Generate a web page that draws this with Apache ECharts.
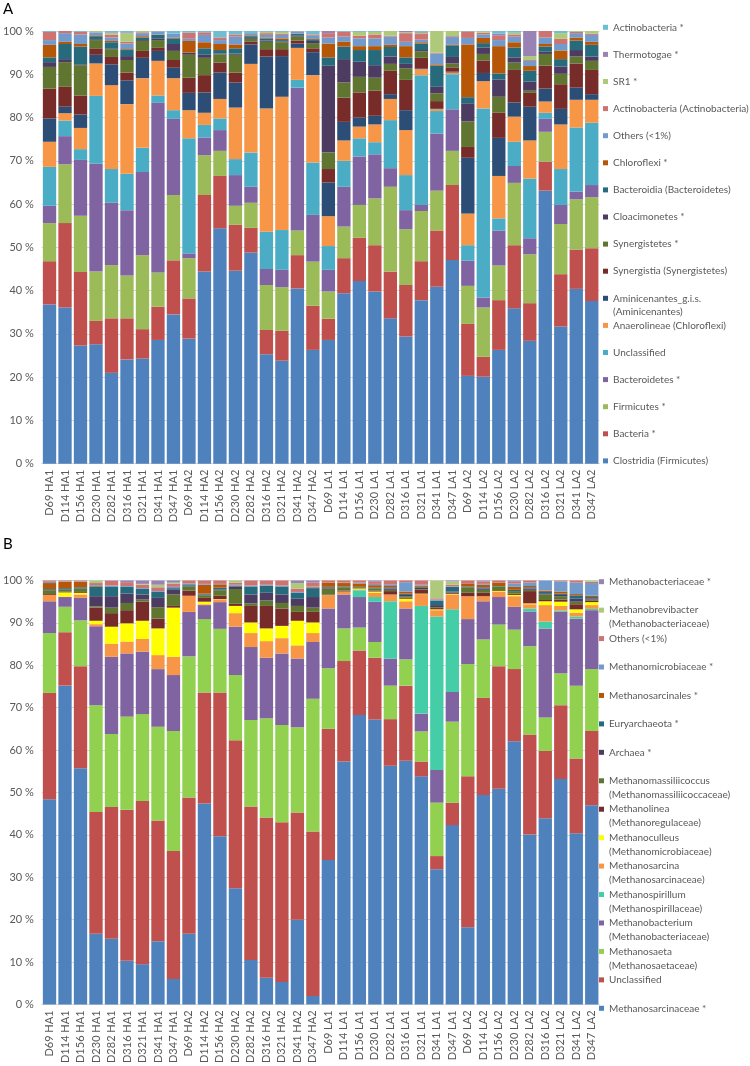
<!DOCTYPE html>
<html><head><meta charset="utf-8">
<script src="https://cdn.jsdelivr.net/npm/echarts/dist/echarts.min.js"></script>
<style>html,body{margin:0;padding:0;background:#fff}#c{width:750px;height:1066px}</style>
</head><body><div id="c"></div>
<script>
const categories = ['D69 HA1','D114 HA1','D156 HA1','D230 HA1','D282 HA1','D316 HA1','D321 HA1','D341 HA1','D347 HA1',
  'D69 HA2','D114 HA2','D156 HA2','D230 HA2','D282 HA2','D316 HA2','D321 HA2','D341 HA2','D347 HA2',
  'D69 LA1','D114 LA1','D156 LA1','D230 LA1','D282 LA1','D316 LA1','D321 LA1','D341 LA1','D347 LA1',
  'D69 LA2','D114 LA2','D156 LA2','D230 LA2','D282 LA2','D316 LA2','D321 LA2','D341 LA2','D347 LA2'];

// ---- Panel A (bacteria), % per sample ----
const clostridia   = [36.8,36.1,27.3,27.6,21.0,24.1,24.3,28.6,34.5,28.9,44.4,54.4,44.6,48.8,25.3,23.8,40.5,26.3,28.6,39.4,42.2,39.8,33.6,29.4,37.8,40.9,47.1,20.3,20.1,26.3,35.9,28.4,63.1,31.7,40.4,37.6];
const bacteriaStar = [10.0,19.5,17.0,5.4,12.6,9.5,6.8,7.7,12.5,9.3,17.7,12.1,10.6,5.7,5.6,6.9,7.7,10.2,4.9,8.1,10.0,10.7,10.8,11.9,9.0,13.0,17.3,12.0,4.6,11.5,14.6,8.7,6.7,12.1,9.1,12.2];
const firmicutes   = [8.8,13.6,13.0,11.4,12.3,9.9,17.1,7.9,15.1,9.3,9.2,5.8,4.4,5.8,10.4,10.1,5.7,10.2,6.3,7.3,7.6,10.8,19.6,12.9,11.6,9.2,7.9,8.8,11.4,8.0,14.4,11.3,6.9,11.6,11.6,11.8];
const bacteroidetes= [4.0,6.5,12.9,24.9,14.4,15.1,19.2,39.2,17.6,1.1,4.1,4.8,7.1,3.7,3.7,4.0,33.0,10.8,5.0,9.2,11.2,10.2,4.3,4.4,1.4,13.2,9.6,5.8,2.3,8.1,3.9,3.7,3.0,4.4,1.8,2.8];
const unclassA     = [9.0,3.6,2.5,15.7,7.8,8.4,5.6,1.7,2.0,26.6,2.9,2.7,3.7,7.9,8.6,9.2,1.8,12.1,5.5,6.0,4.2,2.8,11.1,8.1,30.0,5.2,8.1,3.6,43.7,2.8,5.6,13.8,1.4,8.3,14.8,14.4];
const anaerolineae = [5.8,1.7,4.9,7.5,19.4,16.1,16.1,8.0,7.4,6.5,2.8,4.5,11.9,20.5,28.5,30.8,7.4,20.2,6.9,4.7,2.7,4.1,4.9,10.4,1.4,0.5,0.4,7.3,6.3,9.8,5.8,8.8,2.6,10.3,6.4,5.3];
const aminicenantes= [5.4,1.5,3.1,2.0,4.8,5.5,4.7,2.3,2.4,4.0,4.7,6.1,5.8,4.5,12.0,9.4,1.0,5.3,7.8,4.3,2.1,2.0,1.1,4.6,0.2,0.2,0.2,12.9,1.9,8.8,3.3,7.8,3.0,3.6,2.8,1.3];
const synergistia  = [6.9,4.6,4.4,1.5,1.7,1.8,1.6,0.7,1.8,3.5,4.0,2.3,2.3,0.6,1.7,1.6,0.7,0.9,3.1,5.6,5.8,5.8,5.4,7.0,2.4,1.6,1.0,2.5,2.9,5.8,7.5,3.2,5.3,5.7,5.6,5.6];
const synergistetes= [5.0,5.7,7.0,1.9,1.8,2.9,2.3,1.8,2.1,5.3,4.0,1.9,4.1,0.7,1.7,1.6,0.9,1.2,3.8,3.5,3.6,3.0,1.6,2.7,1.5,1.8,0.9,5.9,1.5,3.7,1.7,0.5,2.7,2.4,1.6,2.1];
const cloacimonetes= [1.1,0.7,0.2,0.2,0.2,0.9,0.2,0.3,1.6,0.5,0.7,0.2,0.3,0.2,0.3,0.2,0.3,0.5,20.1,5.4,3.5,2.9,1.7,1.0,0.3,1.5,1.5,4.2,1.5,4.0,1.2,2.1,0.5,1.7,1.5,1.0];
const bacteroidia  = [1.1,3.5,4.1,0.7,1.4,1.4,0.6,0.9,1.3,0,1.5,0.8,1.2,0.4,0.5,0.3,0.3,0.4,1.9,2.9,2.7,3.5,2.2,1.5,1.5,4.9,2.7,1.4,1.0,1.4,2.3,2.5,1.2,1.7,2.2,2.7];
const chloroflexi  = [2.9,0.5,0.6,0.2,0.3,0.2,0.3,0.1,0.2,2.7,1.4,1.4,0.9,0.2,0.2,0.4,0.1,0.2,3.2,1.1,0.9,0.9,0.5,2.6,0.3,0.3,0.2,12.2,1.2,6.3,1.2,1.1,0.6,2.0,0.7,0.7];
const othersA      = [1.1,2.0,2.2,0.7,0.8,1.3,0.7,0.6,0.9,0.5,1.7,0.9,1.8,0.5,0.6,0.8,0.4,0.6,1.4,1.2,1.8,1.8,1.9,1.0,0.6,2.5,1.7,1.5,0.8,1.4,1.3,1.2,1.5,1.5,1.0,1.6];
const actinoActino = [1.9,0.5,0.6,0,0.6,0.4,0.2,0.1,0,1.4,0.6,0.6,0.5,0,0.4,0.3,0.1,0.3,1.0,1.1,0.6,0.9,0.2,2.0,1.3,0.2,0.2,1.5,0.4,1.0,0.5,0.2,1.5,1.2,0.3,0.3];
const sr1          = [0,0,0,0.3,0.4,2.0,0.3,0,0,0,0,0,0,0,0.3,0.4,0,0,0,0,0.9,0.6,1.1,0.2,0.3,5.0,1.2,0,0.3,0,0.4,0.9,0,1.3,0.2,0.6];
const thermotogae  = [0,0,0,0,0.2,0.2,0,0,0,0,0,0,0,0,0,0,0,0,0.5,0,0,0,0,0.3,0.2,0,0,0,0,0.5,0,5.8,0,0,0,0];
const actinoStar   = [0.2,0,0.2,0,0.3,0.3,0,0.1,0.6,0.4,0.3,1.5,0.8,0.5,0.2,0.2,0.1,0.8,0,0.2,0.2,0.2,0,0,0.2,0,0,0.1,0.1,0.6,0.4,0,0,0.5,0,0];

// ---- Panel B (archaea), % per sample ----
const msarcinaceae = [48.4,75.2,55.7,16.7,15.5,10.3,9.5,14.9,6.0,16.7,47.4,39.7,27.4,10.5,6.3,5.3,20.0,2.0,34.1,57.3,68.3,67.2,56.3,57.5,53.8,31.9,42.3,18.2,49.4,50.9,62.1,40.1,43.9,53.2,40.4,47.0];
const unclassB     = [25.1,12.6,24.1,28.7,31.1,35.6,38.5,28.5,30.2,32.1,26.2,33.9,34.9,36.2,37.8,37.7,25.3,38.8,30.9,23.7,15.2,14.6,11.0,17.7,3.5,3.1,5.3,35.6,22.9,28.9,17.0,23.6,15.9,17.4,17.6,17.5];
const methanosaeta = [14.1,6.0,10.8,25.2,17.2,22.0,20.5,22.1,28.3,33.3,17.3,15.0,15.4,20.4,23.4,22.9,20.1,31.3,14.3,7.7,5.4,3.7,7.9,6.2,7.1,12.6,19.1,26.5,13.8,9.8,9.3,20.8,7.9,7.5,17.2,14.6];
const methanobacterium = [7.5,2.3,5.3,18.6,18.2,14.9,14.7,13.6,13.2,10.5,3.3,6.3,11.4,17.2,14.3,16.9,16.2,13.4,14.1,8.0,7.2,9.5,6.4,12.0,4.2,7.7,7.0,10.6,9.0,6.5,5.4,8.2,21.0,14.5,15.8,13.9];
const methanospirillum = [0,0,0,0,0,0,0,0,0,0,0,0,0,0,0,0,0,0,0,0,1.6,1.1,13.5,0,25.4,36.2,19.5,0,0,0,0,0.7,1.6,0.3,0.5,0.3];
const methanosarcina   = [1.5,0.1,0.8,0.5,3.1,2.8,3.0,3.3,4.3,3.8,0.2,0.6,3.2,3.3,3.9,3.6,3.1,2.1,3.0,0.7,0.2,1.0,1.6,1.7,2.8,1.5,3.5,5.4,1.2,1.2,2.5,1.0,3.9,1.1,0.9,0.9];
const methanoculleus   = [0,1.0,0.4,0.8,4.0,4.3,4.3,6.3,11.6,0,0.6,0.1,1.7,2.5,3.0,2.9,5.8,2.5,0.1,0,0.2,0.3,0,0.6,0.1,0.2,0.1,0,0,0.2,0.3,0.2,0.9,1.0,0.8,0.7];
const methanolinea     = [0.2,0.2,0.2,3.1,3.2,3.1,4.5,2.3,0.4,1.2,0.9,0.8,0.5,3.9,5.3,4.1,2.1,2.5,0.2,0.2,0,0.2,0.8,0.3,0.9,0.3,0.2,0.8,0.8,0.2,0.3,2.9,0.3,0.5,1.2,0.3];
const methanomassilii  = [0.9,0.5,0.7,0.3,1.3,1.7,0.5,2.7,2.7,1.0,0.6,1.3,3.5,0.6,1.3,1.3,1.4,1.0,1.4,0.8,0.3,0.5,0.3,0.3,0.2,0.2,0.2,1.3,0.7,0.9,0.6,0.3,1.3,0.8,0.6,0.3];
const archaeaStar      = [0.1,0.1,0.1,2.4,2.7,2.2,1.2,2.2,1.1,0.2,0.2,0.2,0.6,2.1,1.8,2.0,1.7,2.5,0.2,0,0,0,0.3,0.3,0.3,0.5,0.2,0,0.3,0,0,0.3,0.3,0.3,0.7,0.3];
const euryarchaeota    = [0.2,0.2,0.3,2.3,2.3,1.6,1.3,1.4,0.4,0.3,0.2,0.4,0.2,1.9,1.7,1.9,1.4,2.1,0.2,0.2,0.1,0.2,0.3,0.3,0.2,1.0,1.1,0.2,0.3,0.1,0.3,0.3,0.3,0.3,0.8,0.3];
const methanosarcinales= [1.4,1.5,1.3,0.1,0,0,0,0,0,0,2.1,0.8,0,0,0,0,0,0.2,1.0,0.8,0.8,0.6,0.3,0.5,0.3,0,0,0.6,0.6,0.8,0.7,0.3,0.3,0.5,0.3,0.3];
const methanomicrobiaceae = [0.3,0.1,0.1,0.2,0.2,0.2,0.2,0.2,0.3,0.2,0.2,0.1,0.2,0.2,0.2,0.2,0.2,0.2,0,0.1,0.2,0.3,0.3,2.2,0.2,0.3,0.1,0,0.2,0,0.8,0.8,2.4,2.4,2.7,3.0];
const othersB          = [0.3,0.2,0.2,0.5,1.1,0.9,0.8,0.9,0.7,0.7,0.8,0.8,0.5,1.2,1.0,1.2,0.8,0.9,0.5,0.5,0.5,0.5,1.0,0.4,1.0,0.3,0.4,0.8,0.6,0.5,0.4,0.5,0,0.2,0.5,0.3];
const methanobrevibacter = [0,0,0,0.6,0,0,0.2,0.6,0.3,0,0,0,0.5,0,0,0,1.3,0,0,0,0,0,0,0,0,4.2,0.8,0,0,0,0,0,0,0,0,0.3];
const methanobacteriaceae = [0,0,0,0,0.1,0.4,0.8,1.0,0.5,0,0,0,0,0,0,0,0.6,0.5,0,0,0,0.3,0,0,0,0,0.2,0,0.2,0,0.3,0,0,0,0,0];

// series lists, bottom of stack first
const seriesListA = [
  ['Clostridia (Firmicutes)', clostridia, '#4F81BD'],
  ['Bacteria *', bacteriaStar, '#C0504D'],
  ['Firmicutes *', firmicutes, '#9BBB59'],
  ['Bacteroidetes *', bacteroidetes, '#8064A2'],
  ['Unclassified', unclassA, '#4BACC6'],
  ['Anaerolineae (Chloroflexi)', anaerolineae, '#F79646'],
  ['Aminicenantes_g.i.s.\n(Aminicenantes)', aminicenantes, '#2C4D75'],
  ['Synergistia (Synergistetes)', synergistia, '#772C2A'],
  ['Synergistetes *', synergistetes, '#5F7530'],
  ['Cloacimonetes *', cloacimonetes, '#4D3B62'],
  ['Bacteroidia (Bacteroidetes)', bacteroidia, '#276A7C'],
  ['Chloroflexi *', chloroflexi, '#B65708'],
  ['Others (<1%)', othersA, '#729ACA'],
  ['Actinobacteria (Actinobacteria)', actinoActino, '#CD7371'],
  ['SR1 *', sr1, '#AFC97A'],
  ['Thermotogae *', thermotogae, '#9983B5'],
  ['Actinobacteria *', actinoStar, '#6FBDD1']
];
const seriesListB = [
  ['Methanosarcinaceae *', msarcinaceae, '#4F81BD'],
  ['Unclassified', unclassB, '#C0504D'],
  ['Methanosaeta\n(Methanosaetaceae)', methanosaeta, '#92D050'],
  ['Methanobacterium\n(Methanobacteriaceae)', methanobacterium, '#8064A2'],
  ['Methanospirillum\n(Methanospirillaceae)', methanospirillum, '#45CDA8'],
  ['Methanosarcina\n(Methanosarcinaceae)', methanosarcina, '#F79646'],
  ['Methanoculleus\n(Methanomicrobiaceae)', methanoculleus, '#FFFF00'],
  ['Methanolinea\n(Methanoregulaceae)', methanolinea, '#772C2A'],
  ['Methanomassiliicoccus\n(Methanomassiliicoccaceae)', methanomassilii, '#5F7530'],
  ['Archaea *', archaeaStar, '#4D3B62'],
  ['Euryarchaeota *', euryarchaeota, '#276A7C'],
  ['Methanosarcinales *', methanosarcinales, '#B65708'],
  ['Methanomicrobiaceae *', methanomicrobiaceae, '#729ACA'],
  ['Others (<1%)', othersB, '#CD7371'],
  ['Methanobrevibacter\n(Methanobacteriaceae)', methanobrevibacter, '#AFC97A'],
  ['Methanobacteriaceae *', methanobacteriaceae, '#9983B5']
];

const FONT = 'Lato, "Liberation Sans", sans-serif';
const GREY = '#595959';

function barSeries(list, stack, idx) {
  return list.map(([name, data, color]) => ({
    type: 'bar', name, stack, xAxisIndex: idx, yAxisIndex: idx, data,
    barCategoryGap: '14%', itemStyle: { color }, emphasis: { disabled: true }
  }));
}
function legends(list, left, cy0, gap, lh) {
  return list.slice().reverse().map(([name, , color], i) => {
    const cy = cy0 + i * gap;
    const multi = name.indexOf('\n') >= 0;
    return {
      data: [{ name, itemStyle: { color } }], selectedMode: false,
      left, top: multi ? cy - 1.5 * lh : cy - lh / 2, padding: 0,
      orient: 'vertical', icon: 'rect', itemWidth: 5, itemHeight: 5,
      formatter: multi ? ' \n{name}' : '{name}',
      textStyle: { fontSize: 10, color: GREY, fontFamily: FONT, lineHeight: lh }
    };
  });
}
function xAxis(idx) {
  return { type: 'category', gridIndex: idx, data: categories,
    axisLabel: { rotate: 90, interval: 0, fontSize: 11, color: GREY, margin: 6, fontFamily: FONT },
    axisTick: { show: false }, axisLine: { lineStyle: { color: '#D9D9D9' } } };
}
function yAxis(idx) {
  return { type: 'value', gridIndex: idx, min: 0, max: 100, interval: 10,
    axisLabel: { formatter: '{value} %', fontSize: 11, color: GREY, margin: 8, fontFamily: FONT },
    splitLine: { lineStyle: { color: '#D9D9D9' } }, axisLine: { show: false }, axisTick: { show: false } };
}

const chart = echarts.init(document.getElementById('c'), null, { renderer: 'canvas' });
chart.setOption({
  animation: false,
  backgroundColor: '#ffffff',
  grid: [
    { left: 39.5, top: 31, width: 560, height: 432.7 },
    { left: 39.5, top: 580.5, width: 560, height: 431.5 }
  ],
  xAxis: [xAxis(0), xAxis(1)],
  yAxis: [yAxis(0), yAxis(1)],
  legend: legends(seriesListA, 603, 27.3, 27.1, 13).concat(legends(seriesListB, 599, 581.7, 28.44, 14)),
  graphic: [
    { type: 'text', x: 3, y: 2, style: { text: 'A', fontSize: 15, fill: '#000', fontFamily: FONT } },
    { type: 'text', x: 3, y: 537, style: { text: 'B', fontSize: 15, fill: '#000', fontFamily: FONT } }
  ],
  series: barSeries(seriesListA, 'A', 0).concat(barSeries(seriesListB, 'B', 1))
});
</script></body></html>
